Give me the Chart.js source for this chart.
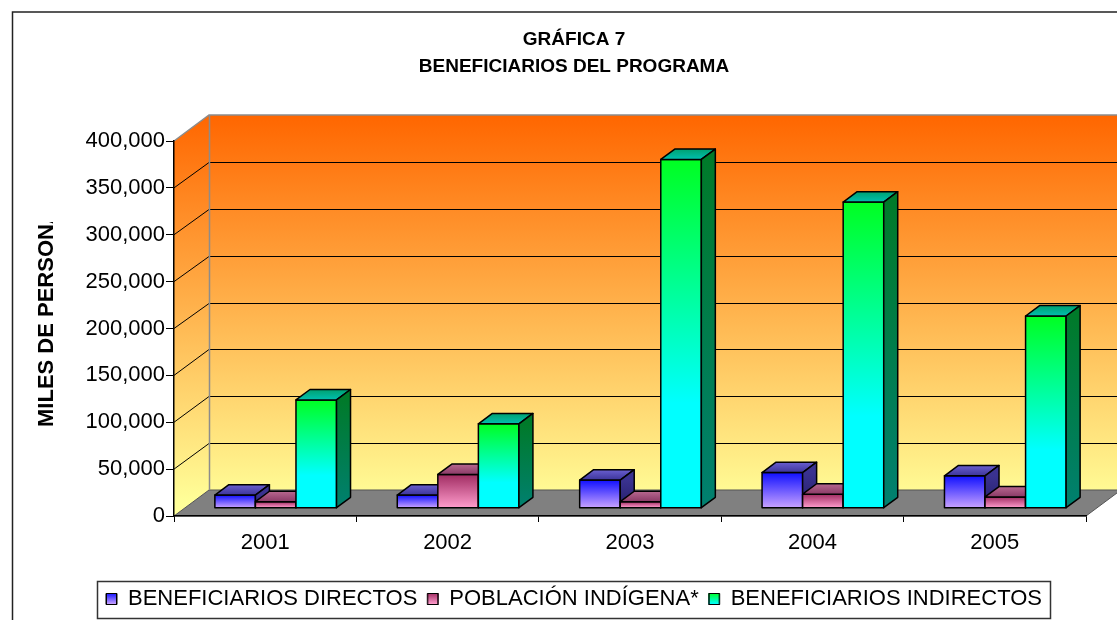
<!DOCTYPE html>
<html>
<head>
<meta charset="utf-8">
<script src="https://cdn.jsdelivr.net/npm/chart.js@4.4.1/dist/chart.umd.min.js"></script>
<style>
  html, body { margin: 0; padding: 0; background: #fff; overflow: hidden; }
  #wrap { position: relative; width: 1140px; height: 620px; }
</style>
</head>
<body>
<div id="wrap"><canvas id="grafica" width="1140" height="620"></canvas></div>
<script>
// data
const years = ['2001', '2002', '2003', '2004', '2005'];
const directos = [14000, 14000, 30000, 38000, 34500];
const indigena = [7000, 36000, 7000, 15000, 12000];
const indirectos = [115500, 90000, 372000, 326500, 205000];
const seriesNames = ['BENEFICIARIOS DIRECTOS', 'POBLACIÓN INDÍGENA*', 'BENEFICIARIOS INDIRECTOS'];
const titleLines = ['GRÁFICA 7', 'BENEFICIARIOS DEL PROGRAMA'];
const yTitle = 'MILES DE PERSONAS';
const yMax = 400000;
const yStep = 50000;

const FONT = "Arial, 'Liberation Sans', sans-serif";
// depth of the 3d box (back wall offset)
const DX = 35, DY = 26;

// face colours per series: front top/bottom, top face, side face
const faces = [
  { front: ['#1010ff', '#c8a2ff'], top: ['#6a5fd0', '#3c3499'], side: ['#3a3290', '#241e6a'] },
  { front: ['#a02c62', '#ff9ccc'], top: ['#b86890', '#8a3a66'], side: ['#7a2a55', '#5a1e40'] },
  { front: ['#00ff22', '#00ffff'], top: ['#00a070', '#00c0b0'], side: ['#007a2a', '#008070'] }
];

function poly(ctx, pts, fill) {
  ctx.beginPath();
  ctx.moveTo(pts[0][0], pts[0][1]);
  for (let i = 1; i < pts.length; i++) ctx.lineTo(pts[i][0], pts[i][1]);
  ctx.closePath();
  ctx.fillStyle = fill;
  ctx.fill();
  ctx.stroke();
}

function drawBar(ctx, el, f) {
  const p = el.getProps(['x', 'y', 'base', 'width'], true);
  const ox = DX * 0.3, oy = DY * 0.3, bx = DX * 0.4, by = DY * 0.4;
  const x0 = p.x - p.width / 2 + ox, x1 = p.x + p.width / 2 + ox;
  const yt = p.y - oy, yb = p.base - oy;
  ctx.strokeStyle = '#000';
  ctx.lineWidth = 1.5;
  ctx.lineJoin = 'round';

  let g = ctx.createLinearGradient(0, yt, 0, yb);
  g.addColorStop(0, f.front[0]);
  g.addColorStop(f === faces[2] ? 0.7 : 1, f.front[1]);
  g.addColorStop(1, f.front[1]);
  poly(ctx, [[x0, yt], [x1, yt], [x1, yb], [x0, yb]], g);

  g = ctx.createLinearGradient(0, yt - by, 0, yt);
  g.addColorStop(0, f.top[0]);
  g.addColorStop(1, f.top[1]);
  poly(ctx, [[x0, yt], [x0 + bx, yt - by], [x1 + bx, yt - by], [x1, yt]], g);

  g = ctx.createLinearGradient(0, yt, 0, yb);
  g.addColorStop(0, f.side[0]);
  g.addColorStop(1, f.side[1]);
  poly(ctx, [[x1, yt], [x1 + bx, yt - by], [x1 + bx, yb - by], [x1, yb]], g);
}

const box3d = {
  id: 'box3d',
  beforeDraw(chart) {
    const ctx = chart.ctx;
    const a = chart.chartArea;
    const y = chart.scales.y;
    ctx.save();
    ctx.fillStyle = '#fff';
    ctx.fillRect(0, 0, chart.width, chart.height);

    // outer frame
    ctx.strokeStyle = '#222';
    ctx.lineWidth = 1.5;
    ctx.beginPath();
    ctx.moveTo(12.5, chart.height);
    ctx.lineTo(12.5, 12);
    ctx.lineTo(chart.width, 12);
    ctx.stroke();

    const wall = ctx.createLinearGradient(0, a.top - DY, 0, a.bottom - DY / 2);
    wall.addColorStop(0, '#ff6600');
    wall.addColorStop(1, '#ffff99');
    ctx.lineWidth = 1;
    ctx.strokeStyle = 'rgba(0,0,0,0)';
    // back wall
    poly(ctx, [[a.left + DX, a.top - DY], [a.right + DX, a.top - DY], [a.right + DX, a.bottom - DY], [a.left + DX, a.bottom - DY]], wall);
    // side wall
    poly(ctx, [[a.left, a.top], [a.left + DX, a.top - DY], [a.left + DX, a.bottom - DY], [a.left, a.bottom]], wall);
    // floor
    ctx.strokeStyle = '#555';
    poly(ctx, [[a.left, a.bottom], [a.right, a.bottom], [a.right + DX, a.bottom - DY], [a.left + DX, a.bottom - DY]], '#808080');

    // gridlines on the walls
    ctx.lineWidth = 1;
    for (let v = yStep; v < yMax; v += yStep) {
      const yf = y.getPixelForValue(v);
      const yb = Math.round(yf - DY) + 0.5;
      ctx.strokeStyle = '#000';
      ctx.beginPath();
      ctx.moveTo(a.left, yf);
      ctx.lineTo(a.left + DX, yb);
      ctx.lineTo(a.right + DX, yb);
      ctx.stroke();
    }
    // wall edges
    ctx.strokeStyle = '#8c8c8c';
    ctx.lineWidth = 1.5;
    ctx.beginPath();
    ctx.moveTo(a.left, a.top);
    ctx.lineTo(a.left + DX, a.top - DY);
    ctx.lineTo(a.right + DX, a.top - DY);
    ctx.moveTo(a.left + DX + 0.5, a.top - DY);
    ctx.lineTo(a.left + DX + 0.5, a.bottom - DY);
    ctx.stroke();
    ctx.restore();
  },
  beforeDatasetsDraw(chart) {
    const ctx = chart.ctx;
    ctx.save();
    for (let i = 0; i < chart.data.labels.length; i++) {
      chart.data.datasets.forEach((ds, d) => {
        drawBar(ctx, chart.getDatasetMeta(d).data[i], faces[d]);
      });
    }
    ctx.restore();
    return false;
  },
  afterDraw(chart) {
    const ctx = chart.ctx;
    ctx.save();
    // y axis title, cut off at the top like the original
    ctx.beginPath();
    ctx.rect(0, 222, 170, 400);
    ctx.clip();
    ctx.translate(47, 427);
    ctx.rotate(-Math.PI / 2);
    ctx.font = 'bold 22px ' + FONT;
    ctx.fillStyle = '#000';
    ctx.textAlign = 'left';
    ctx.textBaseline = 'middle';
    ctx.fillText(yTitle, 0, 0);
    ctx.restore();

    // legend frame and gradient markers
    const lg = chart.legend;
    const hb = lg.legendHitBoxes;
    if (!hb || !hb.length) return;
    const left = Math.min(...hb.map(h => h.left)) - 9;
    const right = Math.max(...hb.map(h => h.left + h.width)) + 8;
    const cy = hb[0].top + hb[0].height / 2;
    ctx.save();
    ctx.strokeStyle = '#333';
    ctx.lineWidth = 1.5;
    ctx.strokeRect(Math.round(left) + 0.5, Math.round(cy - 18) + 0.5, Math.round(right - left), 37);
    hb.forEach((h, d) => {
      const f = faces[d];
      const bx = h.left, by = Math.round(cy - 6);
      const g = ctx.createLinearGradient(0, by, 0, by + 11);
      g.addColorStop(0, f.front[0]);
      g.addColorStop(1, f.front[1]);
      ctx.fillStyle = g;
      ctx.fillRect(bx, by, 11, 11);
      ctx.strokeStyle = '#000';
      ctx.lineWidth = 1;
      ctx.strokeRect(bx + 0.5, by + 0.5, 10, 11);
    });
    ctx.restore();
  }
};

new Chart(document.getElementById('grafica'), {
  type: 'bar',
  data: {
    labels: years,
    datasets: [
      { label: seriesNames[0], data: directos, backgroundColor: '#7060ff', borderColor: '#000', borderWidth: 1 },
      { label: seriesNames[1], data: indigena, backgroundColor: '#e080b0', borderColor: '#000', borderWidth: 1 },
      { label: seriesNames[2], data: indirectos, backgroundColor: '#00f5c0', borderColor: '#000', borderWidth: 1 }
    ]
  },
  options: {
    responsive: false,
    animation: false,
    devicePixelRatio: 1,
    layout: { padding: { left: 62, right: 54, top: 0, bottom: 0 } },
    datasets: { bar: { categoryPercentage: 0.667, barPercentage: 1 } },
    scales: {
      x: {
        grid: { drawOnChartArea: false, color: '#000', tickLength: 6 },
        border: { color: '#000', width: 1.5 },
        ticks: { color: '#000', font: { family: FONT, size: 22 }, padding: 8 },
        afterFit(s) { s.height = 62; }
      },
      y: {
        min: 0,
        max: yMax,
        grid: { drawOnChartArea: false, color: '#000', tickLength: 8 },
        border: { color: '#000', width: 1.5 },
        ticks: { color: '#000', stepSize: yStep, font: { family: FONT, size: 22 }, padding: 1 },
        afterFit(s) { s.width = 112; }
      }
    },
    plugins: {
      title: {
        display: true,
        text: titleLines,
        color: '#000',
        font: { family: FONT, size: 19, weight: 'bold', lineHeight: 27 / 19 },
        padding: { top: 26.5, bottom: 60.5 }
      },
      legend: {
        position: 'bottom',
        labels: { color: '#000', font: { family: FONT, size: 22 }, boxWidth: 11, boxHeight: 11, padding: 10 }
      },
      tooltip: { enabled: false }
    }
  },
  plugins: [box3d]
});
</script>
</body>
</html>
